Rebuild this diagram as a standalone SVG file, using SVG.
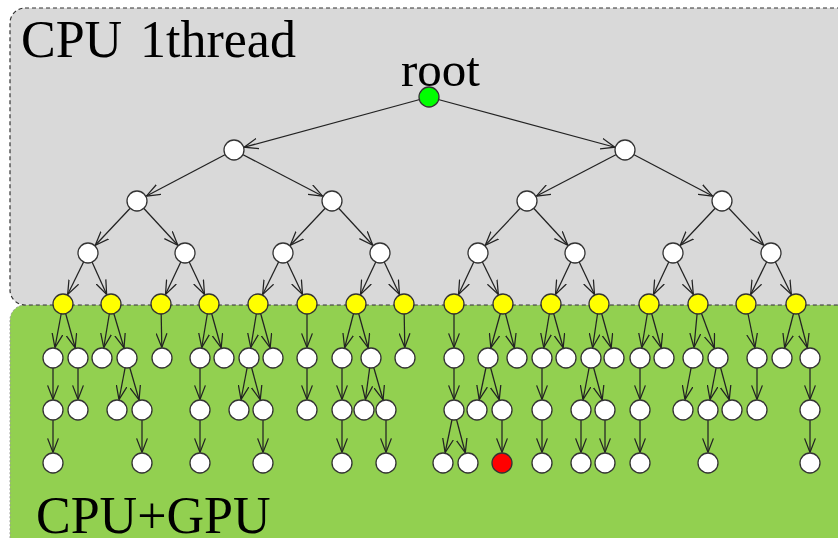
<svg xmlns="http://www.w3.org/2000/svg" width="838" height="538" viewBox="0 0 838 538">
  <style>
    .lbl { font-family: "Liberation Serif", "Times New Roman", serif; fill: #000; }
    .edge { stroke: #222; stroke-width: 1.25; fill: none; marker-end: url(#arr); }
    .n { stroke: #333; stroke-width: 1.3; }
    .w { fill: #fff; }
    .y { fill: #ffff00; }
    .g { fill: #00ff00; }
    .r { fill: #ff0000; }
  </style>
  <defs>
    <!-- open V head; tip sits on the rim of a r=10 node -->
    <marker id="arr" viewBox="0 0 14 12" refX="24.6" refY="6" markerWidth="14" markerHeight="12" markerUnits="userSpaceOnUse" orient="auto">
      <path d="M0,0.6 L14,6 L0,11.4" fill="none" stroke="#222" stroke-width="1.25"/>
    </marker>
  </defs>

  <!-- regions -->
  <g id="region-gpu">
    <rect x="10" y="305" width="850" height="260" rx="15" fill="#92d050" stroke="#9a9a9a" stroke-width="1" stroke-dasharray="2 2"/>
    <text class="lbl" x="36" y="533" font-size="52">CPU+GPU</text>
  </g>
  <g id="region-cpu">
    <rect x="10" y="8" width="850" height="297" rx="15" fill="#d9d9d9" stroke="#333" stroke-width="1.2" stroke-dasharray="4 3"/>
    <text class="lbl" x="21" y="57" font-size="52">CPU <tspan x="140">1thread</tspan></text>
    <text class="lbl" x="401" y="86" font-size="49">root</text>
  </g>

  <g id="connectors">
    <!-- level 0 -> 1 -->
    <line class="edge" x1="429" y1="97" x2="234" y2="150"/>
    <line class="edge" x1="429" y1="97" x2="625" y2="150"/>
    <!-- level 1 -> 2 -->
    <line class="edge" x1="234" y1="150" x2="137" y2="201"/>
    <line class="edge" x1="234" y1="150" x2="332" y2="201"/>
    <line class="edge" x1="625" y1="150" x2="527" y2="201"/>
    <line class="edge" x1="625" y1="150" x2="722" y2="201"/>
    <!-- level 2 -> 3 -->
    <line class="edge" x1="137" y1="201" x2="88" y2="253"/>
    <line class="edge" x1="137" y1="201" x2="185" y2="253"/>
    <line class="edge" x1="332" y1="201" x2="283" y2="253"/>
    <line class="edge" x1="332" y1="201" x2="380" y2="253"/>
    <line class="edge" x1="527" y1="201" x2="478" y2="253"/>
    <line class="edge" x1="527" y1="201" x2="575" y2="253"/>
    <line class="edge" x1="722" y1="201" x2="673" y2="253"/>
    <line class="edge" x1="722" y1="201" x2="771" y2="253"/>
    <!-- level 3 -> 4 -->
    <line class="edge" x1="88" y1="253" x2="63" y2="304"/>
    <line class="edge" x1="88" y1="253" x2="111" y2="304"/>
    <line class="edge" x1="185" y1="253" x2="161" y2="304"/>
    <line class="edge" x1="185" y1="253" x2="209" y2="304"/>
    <line class="edge" x1="283" y1="253" x2="258" y2="304"/>
    <line class="edge" x1="283" y1="253" x2="307" y2="304"/>
    <line class="edge" x1="380" y1="253" x2="356" y2="304"/>
    <line class="edge" x1="380" y1="253" x2="404" y2="304"/>
    <line class="edge" x1="478" y1="253" x2="454" y2="304"/>
    <line class="edge" x1="478" y1="253" x2="503" y2="304"/>
    <line class="edge" x1="575" y1="253" x2="551" y2="304"/>
    <line class="edge" x1="575" y1="253" x2="599" y2="304"/>
    <line class="edge" x1="673" y1="253" x2="649" y2="304"/>
    <line class="edge" x1="673" y1="253" x2="698" y2="304"/>
    <line class="edge" x1="771" y1="253" x2="746" y2="304"/>
    <line class="edge" x1="771" y1="253" x2="796" y2="304"/>
    <!-- level 4 -> 5 -->
    <line class="edge" x1="63" y1="304" x2="53" y2="358"/>
    <line class="edge" x1="63" y1="304" x2="78" y2="358"/>
    <line class="edge" x1="111" y1="304" x2="102" y2="358"/>
    <line class="edge" x1="111" y1="304" x2="127" y2="358"/>
    <line class="edge" x1="161" y1="304" x2="162" y2="358"/>
    <line class="edge" x1="209" y1="304" x2="200" y2="358"/>
    <line class="edge" x1="209" y1="304" x2="224" y2="358"/>
    <line class="edge" x1="258" y1="304" x2="249" y2="358"/>
    <line class="edge" x1="258" y1="304" x2="273" y2="358"/>
    <line class="edge" x1="307" y1="304" x2="307" y2="358"/>
    <line class="edge" x1="356" y1="304" x2="342" y2="358"/>
    <line class="edge" x1="356" y1="304" x2="371" y2="358"/>
    <line class="edge" x1="404" y1="304" x2="405" y2="358"/>
    <line class="edge" x1="454" y1="304" x2="454" y2="358"/>
    <line class="edge" x1="503" y1="304" x2="488" y2="358"/>
    <line class="edge" x1="503" y1="304" x2="517" y2="358"/>
    <line class="edge" x1="551" y1="304" x2="542" y2="358"/>
    <line class="edge" x1="551" y1="304" x2="566" y2="358"/>
    <line class="edge" x1="599" y1="304" x2="591" y2="358"/>
    <line class="edge" x1="599" y1="304" x2="614" y2="358"/>
    <line class="edge" x1="649" y1="304" x2="640" y2="358"/>
    <line class="edge" x1="649" y1="304" x2="664" y2="358"/>
    <line class="edge" x1="698" y1="304" x2="693" y2="358"/>
    <line class="edge" x1="698" y1="304" x2="718" y2="358"/>
    <line class="edge" x1="746" y1="304" x2="757" y2="358"/>
    <line class="edge" x1="796" y1="304" x2="782" y2="358"/>
    <line class="edge" x1="796" y1="304" x2="810" y2="358"/>
    <!-- level 5 -> 6 -->
    <line class="edge" x1="53" y1="358" x2="53" y2="410"/>
    <line class="edge" x1="78" y1="358" x2="78" y2="410"/>
    <line class="edge" x1="127" y1="358" x2="117" y2="410"/>
    <line class="edge" x1="127" y1="358" x2="142" y2="410"/>
    <line class="edge" x1="200" y1="358" x2="200" y2="410"/>
    <line class="edge" x1="249" y1="358" x2="239" y2="410"/>
    <line class="edge" x1="249" y1="358" x2="263" y2="410"/>
    <line class="edge" x1="307" y1="358" x2="307" y2="410"/>
    <line class="edge" x1="342" y1="358" x2="342" y2="410"/>
    <line class="edge" x1="371" y1="358" x2="364" y2="410"/>
    <line class="edge" x1="371" y1="358" x2="386" y2="410"/>
    <line class="edge" x1="454" y1="358" x2="454" y2="410"/>
    <line class="edge" x1="488" y1="358" x2="477" y2="410"/>
    <line class="edge" x1="488" y1="358" x2="502" y2="410"/>
    <line class="edge" x1="542" y1="358" x2="542" y2="410"/>
    <line class="edge" x1="591" y1="358" x2="581" y2="410"/>
    <line class="edge" x1="591" y1="358" x2="605" y2="410"/>
    <line class="edge" x1="640" y1="358" x2="640" y2="410"/>
    <line class="edge" x1="693" y1="358" x2="683" y2="410"/>
    <line class="edge" x1="718" y1="358" x2="708" y2="410"/>
    <line class="edge" x1="718" y1="358" x2="732" y2="410"/>
    <line class="edge" x1="757" y1="358" x2="757" y2="410"/>
    <line class="edge" x1="810" y1="358" x2="810" y2="410"/>
    <!-- level 6 -> 7 -->
    <line class="edge" x1="53" y1="410" x2="53" y2="463"/>
    <line class="edge" x1="142" y1="410" x2="142" y2="463"/>
    <line class="edge" x1="200" y1="410" x2="200" y2="463"/>
    <line class="edge" x1="263" y1="410" x2="263" y2="463"/>
    <line class="edge" x1="342" y1="410" x2="342" y2="463"/>
    <line class="edge" x1="386" y1="410" x2="386" y2="463"/>
    <line class="edge" x1="454" y1="410" x2="443" y2="463"/>
    <line class="edge" x1="454" y1="410" x2="468" y2="463"/>
    <line class="edge" x1="502" y1="410" x2="502" y2="463"/>
    <line class="edge" x1="542" y1="410" x2="542" y2="463"/>
    <line class="edge" x1="581" y1="410" x2="581" y2="463"/>
    <line class="edge" x1="605" y1="410" x2="605" y2="463"/>
    <line class="edge" x1="640" y1="410" x2="640" y2="463"/>
    <line class="edge" x1="708" y1="410" x2="708" y2="463"/>
    <line class="edge" x1="810" y1="410" x2="810" y2="463"/>
  </g>

  <!-- nodes -->
  <g id="root"><circle class="n g" cx="429" cy="97" r="10"/></g>

  <g id="n1-0"><circle class="n w" cx="234" cy="150" r="10"/></g>
  <g id="n1-1"><circle class="n w" cx="625" cy="150" r="10"/></g>

  <g id="n2-0"><circle class="n w" cx="137" cy="201" r="10"/></g>
  <g id="n2-1"><circle class="n w" cx="332" cy="201" r="10"/></g>
  <g id="n2-2"><circle class="n w" cx="527" cy="201" r="10"/></g>
  <g id="n2-3"><circle class="n w" cx="722" cy="201" r="10"/></g>

  <g id="n3-0"><circle class="n w" cx="88" cy="253" r="10"/></g>
  <g id="n3-1"><circle class="n w" cx="185" cy="253" r="10"/></g>
  <g id="n3-2"><circle class="n w" cx="283" cy="253" r="10"/></g>
  <g id="n3-3"><circle class="n w" cx="380" cy="253" r="10"/></g>
  <g id="n3-4"><circle class="n w" cx="478" cy="253" r="10"/></g>
  <g id="n3-5"><circle class="n w" cx="575" cy="253" r="10"/></g>
  <g id="n3-6"><circle class="n w" cx="673" cy="253" r="10"/></g>
  <g id="n3-7"><circle class="n w" cx="771" cy="253" r="10"/></g>

  <!-- split level: yellow nodes -->
  <g id="n4-0"><circle class="n y" cx="63" cy="304" r="10"/></g>
  <g id="n4-1"><circle class="n y" cx="111" cy="304" r="10"/></g>
  <g id="n4-2"><circle class="n y" cx="161" cy="304" r="10"/></g>
  <g id="n4-3"><circle class="n y" cx="209" cy="304" r="10"/></g>
  <g id="n4-4"><circle class="n y" cx="258" cy="304" r="10"/></g>
  <g id="n4-5"><circle class="n y" cx="307" cy="304" r="10"/></g>
  <g id="n4-6"><circle class="n y" cx="356" cy="304" r="10"/></g>
  <g id="n4-7"><circle class="n y" cx="404" cy="304" r="10"/></g>
  <g id="n4-8"><circle class="n y" cx="454" cy="304" r="10"/></g>
  <g id="n4-9"><circle class="n y" cx="503" cy="304" r="10"/></g>
  <g id="n4-10"><circle class="n y" cx="551" cy="304" r="10"/></g>
  <g id="n4-11"><circle class="n y" cx="599" cy="304" r="10"/></g>
  <g id="n4-12"><circle class="n y" cx="649" cy="304" r="10"/></g>
  <g id="n4-13"><circle class="n y" cx="698" cy="304" r="10"/></g>
  <g id="n4-14"><circle class="n y" cx="746" cy="304" r="10"/></g>
  <g id="n4-15"><circle class="n y" cx="796" cy="304" r="10"/></g>

  <g id="n5-0"><circle class="n w" cx="53" cy="358" r="10"/></g>
  <g id="n5-1"><circle class="n w" cx="78" cy="358" r="10"/></g>
  <g id="n5-2"><circle class="n w" cx="102" cy="358" r="10"/></g>
  <g id="n5-3"><circle class="n w" cx="127" cy="358" r="10"/></g>
  <g id="n5-4"><circle class="n w" cx="162" cy="358" r="10"/></g>
  <g id="n5-5"><circle class="n w" cx="200" cy="358" r="10"/></g>
  <g id="n5-6"><circle class="n w" cx="224" cy="358" r="10"/></g>
  <g id="n5-7"><circle class="n w" cx="249" cy="358" r="10"/></g>
  <g id="n5-8"><circle class="n w" cx="273" cy="358" r="10"/></g>
  <g id="n5-9"><circle class="n w" cx="307" cy="358" r="10"/></g>
  <g id="n5-10"><circle class="n w" cx="342" cy="358" r="10"/></g>
  <g id="n5-11"><circle class="n w" cx="371" cy="358" r="10"/></g>
  <g id="n5-12"><circle class="n w" cx="405" cy="358" r="10"/></g>
  <g id="n5-13"><circle class="n w" cx="454" cy="358" r="10"/></g>
  <g id="n5-14"><circle class="n w" cx="488" cy="358" r="10"/></g>
  <g id="n5-15"><circle class="n w" cx="517" cy="358" r="10"/></g>
  <g id="n5-16"><circle class="n w" cx="542" cy="358" r="10"/></g>
  <g id="n5-17"><circle class="n w" cx="566" cy="358" r="10"/></g>
  <g id="n5-18"><circle class="n w" cx="591" cy="358" r="10"/></g>
  <g id="n5-19"><circle class="n w" cx="614" cy="358" r="10"/></g>
  <g id="n5-20"><circle class="n w" cx="640" cy="358" r="10"/></g>
  <g id="n5-21"><circle class="n w" cx="664" cy="358" r="10"/></g>
  <g id="n5-22"><circle class="n w" cx="693" cy="358" r="10"/></g>
  <g id="n5-23"><circle class="n w" cx="718" cy="358" r="10"/></g>
  <g id="n5-24"><circle class="n w" cx="757" cy="358" r="10"/></g>
  <g id="n5-25"><circle class="n w" cx="782" cy="358" r="10"/></g>
  <g id="n5-26"><circle class="n w" cx="810" cy="358" r="10"/></g>

  <g id="n6-0"><circle class="n w" cx="53" cy="410" r="10"/></g>
  <g id="n6-1"><circle class="n w" cx="78" cy="410" r="10"/></g>
  <g id="n6-2"><circle class="n w" cx="117" cy="410" r="10"/></g>
  <g id="n6-3"><circle class="n w" cx="142" cy="410" r="10"/></g>
  <g id="n6-4"><circle class="n w" cx="200" cy="410" r="10"/></g>
  <g id="n6-5"><circle class="n w" cx="239" cy="410" r="10"/></g>
  <g id="n6-6"><circle class="n w" cx="263" cy="410" r="10"/></g>
  <g id="n6-7"><circle class="n w" cx="307" cy="410" r="10"/></g>
  <g id="n6-8"><circle class="n w" cx="342" cy="410" r="10"/></g>
  <g id="n6-9"><circle class="n w" cx="364" cy="410" r="10"/></g>
  <g id="n6-10"><circle class="n w" cx="386" cy="410" r="10"/></g>
  <g id="n6-11"><circle class="n w" cx="454" cy="410" r="10"/></g>
  <g id="n6-12"><circle class="n w" cx="477" cy="410" r="10"/></g>
  <g id="n6-13"><circle class="n w" cx="502" cy="410" r="10"/></g>
  <g id="n6-14"><circle class="n w" cx="542" cy="410" r="10"/></g>
  <g id="n6-15"><circle class="n w" cx="581" cy="410" r="10"/></g>
  <g id="n6-16"><circle class="n w" cx="605" cy="410" r="10"/></g>
  <g id="n6-17"><circle class="n w" cx="640" cy="410" r="10"/></g>
  <g id="n6-18"><circle class="n w" cx="683" cy="410" r="10"/></g>
  <g id="n6-19"><circle class="n w" cx="708" cy="410" r="10"/></g>
  <g id="n6-20"><circle class="n w" cx="732" cy="410" r="10"/></g>
  <g id="n6-21"><circle class="n w" cx="757" cy="410" r="10"/></g>
  <g id="n6-22"><circle class="n w" cx="810" cy="410" r="10"/></g>

  <g id="n7-0"><circle class="n w" cx="53" cy="463" r="10"/></g>
  <g id="n7-1"><circle class="n w" cx="142" cy="463" r="10"/></g>
  <g id="n7-2"><circle class="n w" cx="200" cy="463" r="10"/></g>
  <g id="n7-3"><circle class="n w" cx="263" cy="463" r="10"/></g>
  <g id="n7-4"><circle class="n w" cx="342" cy="463" r="10"/></g>
  <g id="n7-5"><circle class="n w" cx="386" cy="463" r="10"/></g>
  <g id="n7-6"><circle class="n w" cx="443" cy="463" r="10"/></g>
  <g id="n7-7"><circle class="n w" cx="468" cy="463" r="10"/></g>
  <g id="n7-8"><circle class="n r" cx="502" cy="463" r="10"/></g>
  <g id="n7-9"><circle class="n w" cx="542" cy="463" r="10"/></g>
  <g id="n7-10"><circle class="n w" cx="581" cy="463" r="10"/></g>
  <g id="n7-11"><circle class="n w" cx="605" cy="463" r="10"/></g>
  <g id="n7-12"><circle class="n w" cx="640" cy="463" r="10"/></g>
  <g id="n7-13"><circle class="n w" cx="708" cy="463" r="10"/></g>
  <g id="n7-14"><circle class="n w" cx="810" cy="463" r="10"/></g>
</svg>
